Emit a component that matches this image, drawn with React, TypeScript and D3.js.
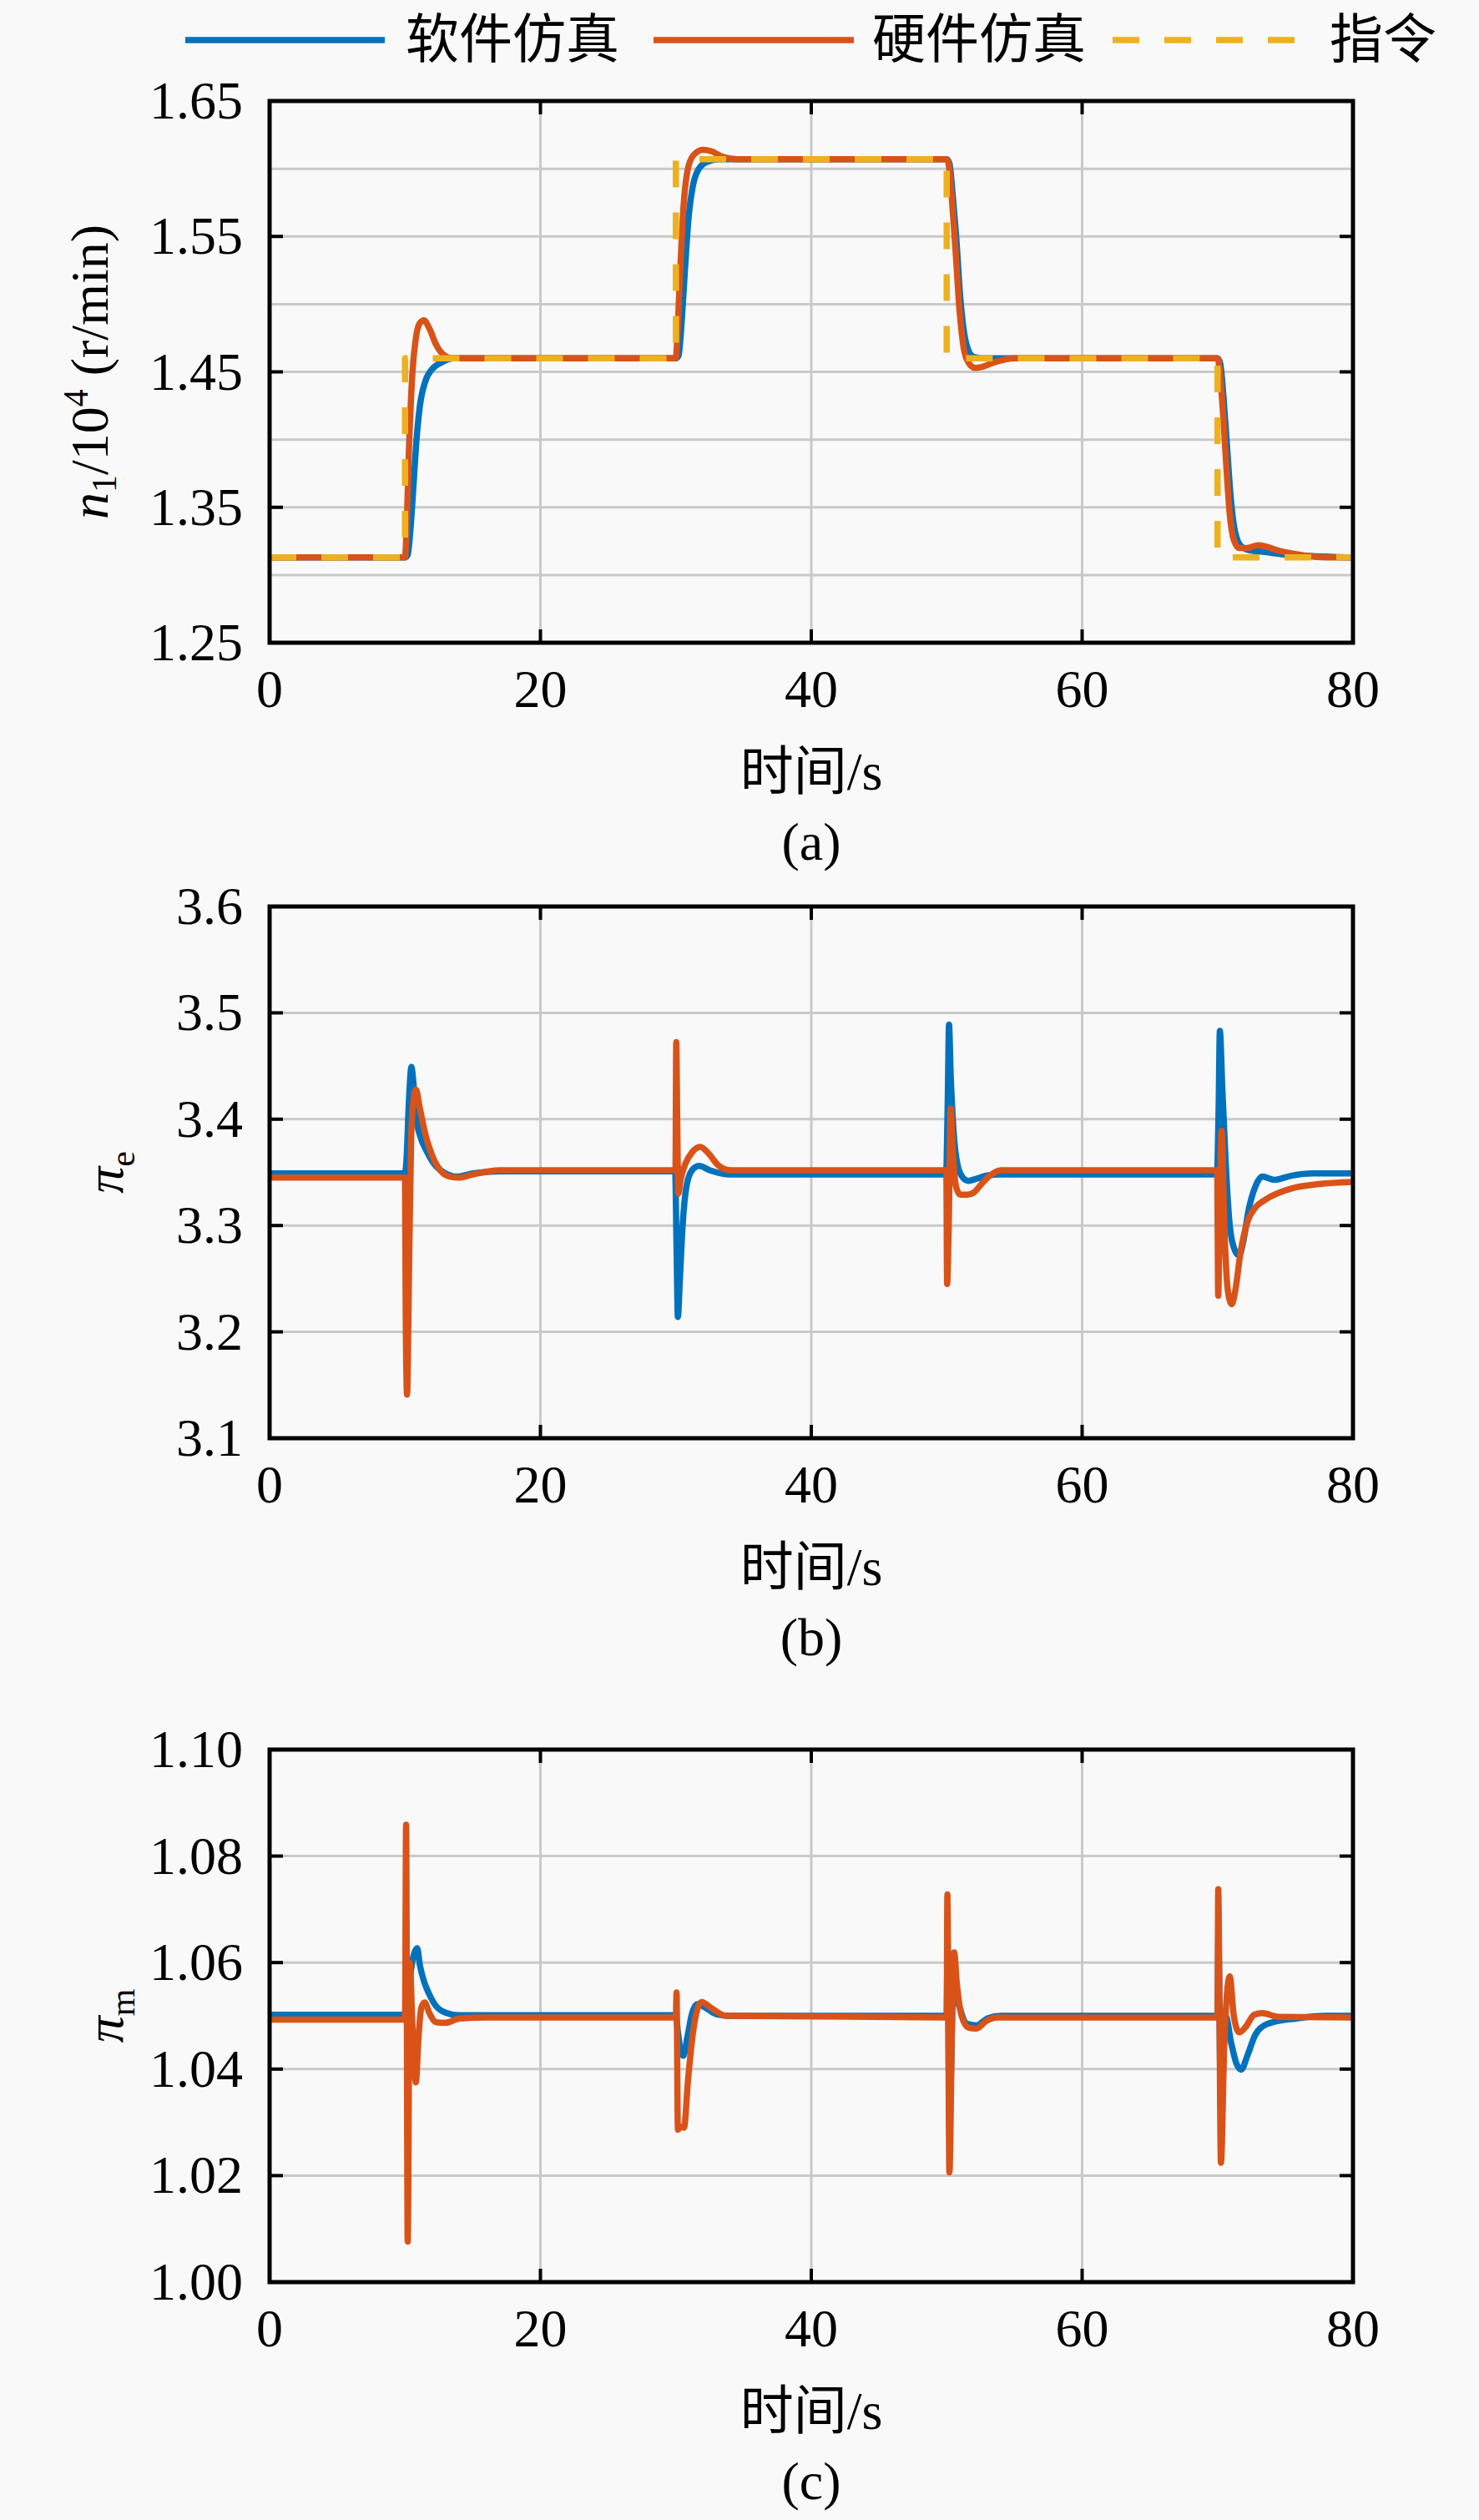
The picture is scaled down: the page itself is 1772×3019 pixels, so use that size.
import React from 'react';
import * as d3 from 'd3';

const W = 1772;
const H = 3019;
const BLUE = '#0072BD';
const ORANGE = '#D95319';
const YELLOW = '#EDB120';
const BG = '#f9f9f9';
const GRID = '#c9c9c9';
const SERIF = '"Liberation Serif", "Times New Roman", serif';
const CJK = '"Liberation Serif", "Noto Sans CJK SC", serif';

const legendLabels = ['软件仿真', '硬件仿真', '指令'];
const xTicks = [0, 20, 40, 60, 80];
const xLabel = '时间/s';

// Panel (a): n1 / 10^4 (r/min)
const aTicks = [1.25, 1.35, 1.45, 1.55, 1.65];
const aGrid = [1.25, 1.3, 1.35, 1.4, 1.45, 1.5, 1.55, 1.6, 1.65];
const aCmd: [number, number][] = [
  [0, 1.313], [10, 1.313], [10, 1.46], [30, 1.46], [30, 1.607], [50, 1.607],
  [50, 1.46], [70, 1.46], [70, 1.313], [80, 1.313],
];
const aSoft: [number, number][] = [
  [0, 1.313], [10, 1.313], [10.2, 1.315], [10.45, 1.34], [10.65, 1.37], [10.85, 1.4],
  [11.1, 1.425], [11.5, 1.443], [12.0, 1.452], [12.7, 1.457], [13.6, 1.46],
  [30, 1.46], [30.2, 1.462], [30.45, 1.49], [30.7, 1.53], [30.95, 1.565], [31.25, 1.587],
  [31.7, 1.6], [32.3, 1.605], [33.2, 1.607],
  [50, 1.607], [50.2, 1.604], [50.45, 1.58], [50.7, 1.55], [51.0, 1.505], [51.3, 1.478],
  [51.6, 1.466], [52.0, 1.461], [52.6, 1.46],
  [70, 1.46], [70.2, 1.456], [70.45, 1.43], [70.7, 1.395], [70.95, 1.36], [71.2, 1.337],
  [71.5, 1.325], [71.9, 1.32], [72.5, 1.318], [73.5, 1.317], [75, 1.315], [77, 1.314], [80, 1.313],
];
const aHard: [number, number][] = [
  [0, 1.313], [10, 1.313], [10.1, 1.33], [10.3, 1.395], [10.55, 1.45], [10.8, 1.475],
  [11.1, 1.486], [11.4, 1.488], [11.8, 1.482], [12.3, 1.47], [12.8, 1.463], [13.5, 1.46],
  [30, 1.46], [30.1, 1.475], [30.3, 1.52], [30.55, 1.57], [30.85, 1.598], [31.3, 1.61],
  [32.0, 1.614], [32.6, 1.613], [33.4, 1.609], [34.5, 1.607],
  [50, 1.607], [50.15, 1.603], [50.4, 1.575], [50.65, 1.54], [50.95, 1.495], [51.25, 1.468],
  [51.6, 1.457], [52.1, 1.453], [52.7, 1.454], [53.5, 1.457], [55, 1.46],
  [70, 1.46], [70.15, 1.452], [70.4, 1.42], [70.65, 1.38], [70.9, 1.345], [71.2, 1.326],
  [71.6, 1.32], [72.2, 1.32], [73.0, 1.322], [73.6, 1.321], [74.5, 1.318], [76, 1.315],
  [78, 1.313], [80, 1.313],
];

// Panel (b): pi_e
const bTicks = [3.1, 3.2, 3.3, 3.4, 3.5, 3.6];
const bSoft: [number, number][] = [
  [0, 3.349], [10, 3.349], [10.1, 3.36], [10.3, 3.42], [10.47, 3.449], [10.65, 3.43],
  [10.85, 3.4], [11.15, 3.383], [11.6, 3.37], [12.2, 3.357], [13, 3.349], [13.8, 3.346],
  [15, 3.349], [17, 3.351], [29.95, 3.351], [30.05, 3.28], [30.15, 3.214], [30.3, 3.25],
  [30.5, 3.3], [30.8, 3.338], [31.2, 3.352], [31.7, 3.356], [32.5, 3.352], [34, 3.348],
  [49.95, 3.348], [50.08, 3.42], [50.17, 3.489], [50.3, 3.44], [50.5, 3.39], [50.8, 3.357],
  [51.2, 3.345], [51.6, 3.342], [52.2, 3.344], [53, 3.347], [54, 3.348],
  [69.95, 3.348], [70.08, 3.41], [70.17, 3.483], [70.35, 3.43], [70.6, 3.36], [70.9, 3.3],
  [71.3, 3.276], [71.6, 3.272], [71.9, 3.285], [72.3, 3.315], [72.8, 3.337], [73.3, 3.346],
  [74.2, 3.343], [75.5, 3.347], [77, 3.349], [80, 3.349],
];
const bHard: [number, number][] = [
  [0, 3.345], [10, 3.345], [10.05, 3.22], [10.15, 3.141], [10.3, 3.26], [10.45, 3.38],
  [10.6, 3.415], [10.8, 3.428], [11.1, 3.41], [11.5, 3.386], [12, 3.366], [12.6, 3.352],
  [13.3, 3.346], [14, 3.345], [15, 3.348], [17, 3.352], [29.97, 3.352], [30.03, 3.4725],
  [30.1, 3.4], [30.18, 3.33], [30.35, 3.343], [30.7, 3.358], [31.2, 3.369], [31.8, 3.374],
  [32.4, 3.368], [33.1, 3.357], [34, 3.352],
  [49.97, 3.352], [50.03, 3.245], [50.15, 3.3], [50.3, 3.41], [50.45, 3.37], [50.7, 3.336],
  [51.0, 3.329], [51.5, 3.329], [52, 3.331], [52.5, 3.338], [53.2, 3.347], [54, 3.352],
  [69.97, 3.352], [70.05, 3.234], [70.15, 3.3], [70.3, 3.389], [70.5, 3.3], [70.75, 3.24],
  [71.05, 3.226], [71.3, 3.238], [71.7, 3.275], [72.2, 3.303], [72.8, 3.317], [73.5, 3.324],
  [75.5, 3.335], [77.5, 3.339], [80, 3.341],
];

// Panel (c): pi_m
const cTicks = [1.0, 1.02, 1.04, 1.06, 1.08, 1.1];
const cSoft: [number, number][] = [
  [0, 1.0502], [10, 1.0502], [10.3, 1.056], [10.6, 1.061], [10.9, 1.0627], [11.1, 1.0595],
  [11.4, 1.0565], [11.8, 1.054], [12.3, 1.0518], [13, 1.0506], [14, 1.0501],
  [30, 1.0501], [30.15, 1.047], [30.35, 1.0435], [30.55, 1.0425], [30.85, 1.046],
  [31.2, 1.0505], [31.6, 1.0522], [32.2, 1.0515], [33, 1.0503], [34, 1.05],
  [50, 1.05], [50.06, 1.064], [50.2, 1.03], [50.5, 1.056], [50.9, 1.052], [51.5, 1.0485],
  [52.2, 1.0482], [53, 1.0495], [54, 1.05],
  [70, 1.05], [70.06, 1.065], [70.25, 1.032], [70.6, 1.05], [71.0, 1.045], [71.4, 1.041],
  [71.75, 1.0399], [72.2, 1.0425], [72.8, 1.0465], [73.7, 1.0485], [75.8, 1.0495],
  [78, 1.05], [80, 1.05],
];
const cHard: [number, number][] = [
  [0, 1.0493], [10, 1.0493], [10.08, 1.0859], [10.2, 1.0076], [10.35, 1.06], [10.55, 1.048],
  [10.8, 1.0375], [11.0, 1.046], [11.2, 1.0515], [11.45, 1.0525], [11.8, 1.0505],
  [12.3, 1.0488], [13, 1.0487], [14, 1.0495], [16, 1.0497],
  [30, 1.0497], [30.05, 1.0544], [30.15, 1.0286], [30.4, 1.0292], [30.6, 1.029],
  [30.9, 1.038], [31.3, 1.0475], [31.9, 1.0526], [32.6, 1.0515], [33.7, 1.05],
  [50, 1.0497], [50.05, 1.0728], [50.2, 1.0206], [50.4, 1.05], [50.55, 1.0619],
  [50.75, 1.056], [51.1, 1.05], [51.6, 1.0478], [52.2, 1.0476], [52.9, 1.049], [53.7, 1.0497],
  [70, 1.0497], [70.05, 1.0738], [70.25, 1.0224], [70.5, 1.045], [70.9, 1.0574],
  [71.2, 1.05], [71.6, 1.0469], [72.1, 1.048], [72.7, 1.0502], [73.3, 1.0505],
  [74.5, 1.0498], [80, 1.0497],
];

type Pt = [number, number];

const L = 323;
const R = 1621;
const TICK = 16;
const FS = 64;
const LW = 7.5;
const DASH = '32 30';

interface PanelProps {
  id: string;
  top: number;
  bottom: number;
  domain: [number, number];
  ticks: number[];
  grid: number[];
  digits: number;
  soft: Pt[];
  hard: Pt[];
  cmd?: Pt[];
  tag: string;
  ylabel: React.ReactNode;
  ylabelX: number;
}

function Panel(p: PanelProps) {
  const x = d3.scaleLinear().domain([0, 80]).range([L, R]);
  const y = d3.scaleLinear().domain(p.domain).range([p.bottom, p.top]);
  const smooth = d3.line<Pt>().x(d => x(d[0])).y(d => y(d[1])).curve(d3.curveMonotoneX);
  const straight = d3.line<Pt>().x(d => x(d[0])).y(d => y(d[1]));
  const mid = (p.top + p.bottom) / 2;
  const cx = (L + R) / 2;
  const fmt = d3.format(`.${p.digits}f`);
  return (
    <g>
      <defs>
        <clipPath id={`clip-${p.id}`}>
          <rect x={L} y={p.top} width={R - L} height={p.bottom - p.top} />
        </clipPath>
      </defs>
      {p.grid.map(v => (
        <line key={`gy${v}`} x1={L} x2={R} y1={y(v)} y2={y(v)} stroke={GRID} strokeWidth={3} />
      ))}
      {xTicks.slice(1, -1).map(v => (
        <line key={`gx${v}`} x1={x(v)} x2={x(v)} y1={p.top} y2={p.bottom} stroke={GRID} strokeWidth={3} />
      ))}
      <g clipPath={`url(#clip-${p.id})`} fill="none" strokeLinejoin="round">
        <path d={smooth(p.soft) || ''} stroke={BLUE} strokeWidth={LW} />
        <path d={smooth(p.hard) || ''} stroke={ORANGE} strokeWidth={LW} />
        {p.cmd && (
          <path d={straight(p.cmd) || ''} stroke={YELLOW} strokeWidth={LW} strokeDasharray={DASH} />
        )}
      </g>
      {p.ticks.map(v => (
        <g key={`ty${v}`}>
          <line x1={L} x2={L + TICK} y1={y(v)} y2={y(v)} stroke="#000" strokeWidth={4} />
          <line x1={R - TICK} x2={R} y1={y(v)} y2={y(v)} stroke="#000" strokeWidth={4} />
          <text x={L - 32} y={y(v) + 21} textAnchor="end" fontFamily={SERIF} fontSize={FS} fill="#000">
            {fmt(v)}
          </text>
        </g>
      ))}
      {xTicks.map(v => (
        <g key={`tx${v}`}>
          <line x1={x(v)} x2={x(v)} y1={p.bottom} y2={p.bottom - TICK} stroke="#000" strokeWidth={4} />
          <line x1={x(v)} x2={x(v)} y1={p.top} y2={p.top + TICK} stroke="#000" strokeWidth={4} />
          <text x={x(v)} y={p.bottom + 77} textAnchor="middle" fontFamily={SERIF} fontSize={FS} fill="#000">
            {v}
          </text>
        </g>
      ))}
      <rect x={L} y={p.top} width={R - L} height={p.bottom - p.top} fill="none" stroke="#000" strokeWidth={5} />
      <text x={cx} y={p.bottom + 154} textAnchor="middle" dominantBaseline="central" fontFamily={CJK} fontSize={FS} fill="#000">
        {xLabel}
      </text>
      <text x={cx} y={p.bottom + 260} textAnchor="middle" fontFamily={SERIF} fontSize={FS} fill="#000">
        {p.tag}
      </text>
      <text transform={`translate(${p.ylabelX},${mid}) rotate(-90)`} textAnchor="middle" fontFamily={SERIF} fontSize={FS} fill="#000">
        {p.ylabel}
      </text>
    </g>
  );
}

export default function App() {
  const legendItems = [
    { label: legendLabels[0], color: BLUE, dash: undefined as string | undefined, x1: 222, x2: 461, tx: 486 },
    { label: legendLabels[1], color: ORANGE, dash: undefined as string | undefined, x1: 783, x2: 1023, tx: 1045 },
    { label: legendLabels[2], color: YELLOW, dash: DASH, x1: 1333, x2: 1554, tx: 1593 },
  ];
  return (
    <svg width={W} height={H} viewBox={`0 0 ${W} ${H}`} style={{ position: 'absolute', left: 0, top: 0, display: 'block' }}>
      <rect x={0} y={0} width={W} height={H} fill={BG} />
      {legendItems.map(it => (
        <g key={it.label}>
          <line x1={it.x1} x2={it.x2} y1={48} y2={48} stroke={it.color} strokeWidth={LW} strokeDasharray={it.dash} />
          <text x={it.tx} y={47} dominantBaseline="central" fontFamily={CJK} fontSize={FS} fill="#000">
            {it.label}
          </text>
        </g>
      ))}
      <Panel
        id="a" top={121} bottom={770} domain={[1.25, 1.65]} ticks={aTicks} grid={aGrid} digits={2}
        soft={aSoft} hard={aHard} cmd={aCmd} tag="(a)" ylabelX={129}
        ylabel={
          <>
            <tspan fontStyle="italic">n</tspan>
            <tspan fontSize={42} dy={10}>1</tspan>
            <tspan dy={-10}>/10</tspan>
            <tspan fontSize={42} dy={-24}>4</tspan>
            <tspan dy={24}> (r/min)</tspan>
          </>
        }
      />
      <Panel
        id="b" top={1086} bottom={1723} domain={[3.1, 3.6]} ticks={bTicks} grid={bTicks} digits={1}
        soft={bSoft} hard={bHard} tag="(b)" ylabelX={147}
        ylabel={
          <>
            <tspan fontStyle="italic">π</tspan>
            <tspan fontSize={42} dy={14}>e</tspan>
          </>
        }
      />
      <Panel
        id="c" top={2096} bottom={2734} domain={[1.0, 1.1]} ticks={cTicks} grid={cTicks} digits={2}
        soft={cSoft} hard={cHard} tag="(c)" ylabelX={147}
        ylabel={
          <>
            <tspan fontStyle="italic">π</tspan>
            <tspan fontSize={42} dy={14}>m</tspan>
          </>
        }
      />
    </svg>
  );
}
